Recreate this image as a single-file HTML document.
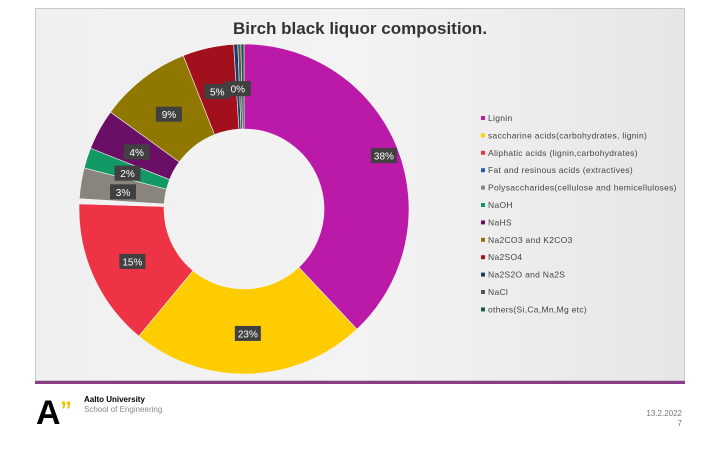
<!DOCTYPE html>
<html><head><meta charset="utf-8">
<style>
body{margin:0;width:720px;height:450px;background:#fff;position:relative;overflow:hidden;font-family:"Liberation Sans",sans-serif}
#panel{position:absolute;left:35px;top:8px;width:650px;height:373px;background:linear-gradient(90deg,#f0f0f0,#f3f3f3 50%,#e6e6e6);border:1px solid #c8c8c8;box-sizing:border-box}
#line{position:absolute;left:35px;top:381px;width:650px;height:3px;background:#8a3c86}
</style></head><body>
<div id="panel"></div>
<div id="line"></div>
<svg id="chart" width="720" height="450" style="position:absolute;left:0;top:0">
<text x="360" y="34" text-anchor="middle" font-size="17" font-weight="bold" fill="#333">Birch black liquor composition.</text>
<g id="slices"></g><g id="labels"></g><g id="legend"></g>
<g>
<text x="36" y="424" font-size="34" font-weight="900" fill="#000">A</text>
<text x="60" y="418" font-size="24" font-weight="900" fill="#f5c400">”</text>
<text x="84" y="402" font-size="8" font-weight="bold" fill="#000">Aalto University</text>
<text x="84" y="412" font-size="8" fill="#888">School of Engineering</text>
</g>
<text x="682" y="416" text-anchor="end" font-size="8" fill="#777">13.2.2022</text>
<text x="682" y="426" text-anchor="end" font-size="8" fill="#777">7</text>
</svg>
<script>
const categories=["Lignin","saccharine acids(carbohydrates, lignin)","Aliphatic acids (lignin,carbohydrates)","Fat and resinous acids (extractives)","Polysaccharides(cellulose and hemicelluloses)","NaOH","NaHS","Na2CO3 and K2CO3","Na2SO4","Na2S2O and Na2S","NaCl","others(Si,Ca,Mn,Mg etc)"];
const values=[38,23,14.5,0.5,3,2,4,9,5,0.4,0.3,0.3];
const labelsText=["38%","23%","15%","","3%","2%","4%","9%","5%","0%","",""];
const colors=["#bb1aa8","#ffcc00","#ee3344","#1f5fa8","#8a857c","#119966","#6b0f66","#8f7700","#a1101c","#1b3a66","#555555","#1f5a3a"];
const sliceFill=["#bb1aa8","#ffcc00","#ee3344","#f2f2f2","#8a857c","#119966","#6b0f66","#8f7700","#a1101c","#1b3a66","#555555","#1f5a3a"];
const cx=244,cy=209,R=165,r0=80,NS="http://www.w3.org/2000/svg";
const total=values.reduce((a,b)=>a+b,0);
function pt(a,rad){return [cx+rad*Math.sin(a),cy-rad*Math.cos(a)];}
let acc=0;const sg=document.getElementById('slices'),lg=document.getElementById('labels'),gg=document.getElementById('legend');
values.forEach((v,i)=>{
 const a0=acc/total*2*Math.PI;acc+=v;const a1=acc/total*2*Math.PI;
 const large=a1-a0>Math.PI?1:0;
 const p1=pt(a0,R),p2=pt(a1,R),p3=pt(a1,r0),p4=pt(a0,r0);
 const p=document.createElementNS(NS,'path');
 p.setAttribute('d',`M${p1}A${R},${R} 0 ${large} 1 ${p2}L${p3}A${r0},${r0} 0 ${large} 0 ${p4}Z`);
 p.setAttribute('fill',sliceFill[i]);p.setAttribute('stroke','#f4f4f4');p.setAttribute('stroke-width','0.6');
 
 
 sg.appendChild(p);
 if(labelsText[i]){
  const m=(a0+a1)/2;const c=pt(m,(R+r0)/2+(i==0?28:0));
  const w=26,h=15;
  const g=document.createElementNS(NS,'g');
  
  
  g.innerHTML=`<rect x="${c[0]-w/2}" y="${c[1]-h/2+2}" width="${w}" height="${h}" fill="#404040"/><text x="${c[0]}" y="${c[1]+6}" text-anchor="middle" font-size="10" fill="#fff">${labelsText[i]}</text>`;
  lg.appendChild(g);
 }
 const y=121+i*17.4;
 const e=document.createElementNS(NS,'g');
 
 
 e.innerHTML=`<rect x="481" y="${y-5}" width="4" height="4" fill="${colors[i]}"/><text x="488" y="${y}" font-size="8.5" fill="#444" letter-spacing="0.3">${categories[i]}</text>`;
 gg.appendChild(e);
});
</script>
</body></html>
